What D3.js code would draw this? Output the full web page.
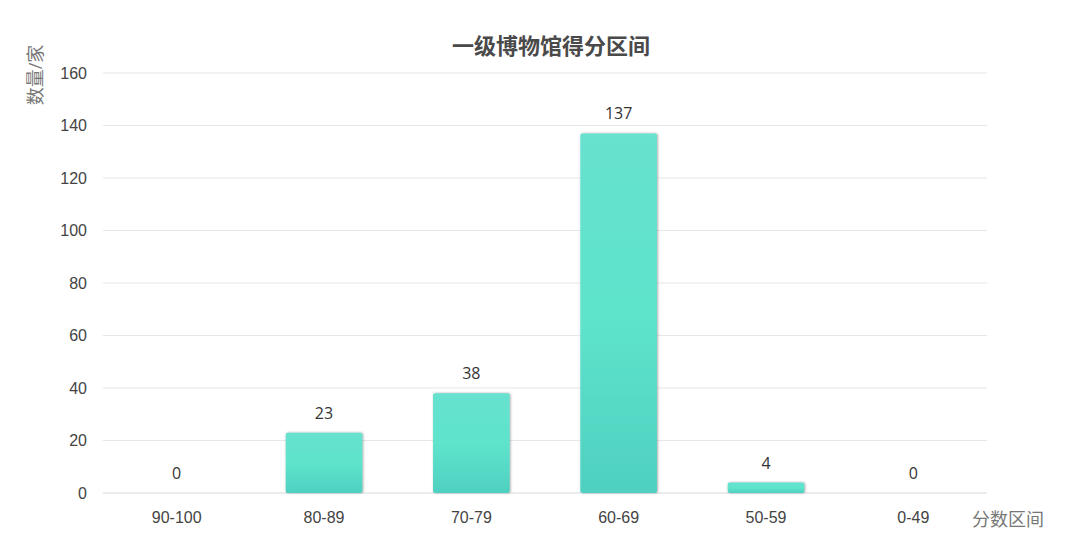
<!DOCTYPE html>
<html>
<head>
    <meta charset="utf-8">
    <style>
        body {
            margin: 0;
            background: #fff;
            font-family: "Open Sans", "Noto Sans CJK SC", sans-serif;
        }

        svg {
            display: block;
        }

        .y .domain, .x .domain {
            display: none;
        }

        .tick text {
            font-size: 16px;
            fill: #444;
        }
    </style>
</head>
<body>
    <svg width="1080" height="558"></svg>

<script src="https://d3js.org/d3.v7.min.js"></script>
<script>
    // Score bands and number of museums in each
    let categories = ["90-100", "80-89", "70-79", "60-69", "50-59", "0-49"]
    let counts = [0, 23, 38, 137, 4, 0]
    let yTicks = [0, 20, 40, 60, 80, 100, 120, 140, 160]

    let width = 1080
    let height = 558
    let margin = { top: 73, right: 93, bottom: 65, left: 103 }

    let svg = d3.select("svg")

    // Bar gradient + soft shadow
    let defs = svg.append("defs")
    let grad = defs.append("linearGradient")
        .attr("id", "barGrad")
        .attr("x1", 0).attr("y1", 0)
        .attr("x2", 0).attr("y2", 1)
    grad.append("stop").attr("offset", "0%").attr("stop-color", "#67e1cf")
    grad.append("stop").attr("offset", "50%").attr("stop-color", "#5ee4cc")
    grad.append("stop").attr("offset", "100%").attr("stop-color", "#4fd0c1")

    let shadow = defs.append("filter")
        .attr("id", "shadow")
        .attr("x", "-10%").attr("y", "-10%")
        .attr("width", "120%").attr("height", "120%")
    shadow.append("feDropShadow")
        .attr("dx", 0.8).attr("dy", 0)
        .attr("stdDeviation", 1.3)
        .attr("flood-color", "#444")
        .attr("flood-opacity", 0.5)

    let x = d3.scaleBand()
        .domain(categories)
        .range([margin.left, width - margin.right])
        .paddingInner(0.48)
        .paddingOuter(0.24)

    let y = d3.scaleLinear()
        .domain([0, 160])
        .range([height - margin.bottom, margin.top])

    // Gridlines
    svg.append("g")
        .selectAll("line")
        .data(yTicks)
        .join("line")
        .attr("x1", margin.left)
        .attr("x2", width - margin.right)
        .attr("y1", d => y(d))
        .attr("y2", d => y(d))
        .attr("stroke", d => d == 0 ? "#d4dada" : "#e3e8e8")
        .attr("stroke-width", 1.2)

    // Y axis
    svg.append("g")
        .attr("class", "y axis")
        .attr("transform", `translate(${margin.left - 6},0)`)
        .call(d3.axisLeft(y).tickValues(yTicks).tickSize(0).tickPadding(10))

    // X axis
    svg.append("g")
        .attr("class", "x axis")
        .attr("transform", `translate(0,${height - margin.bottom})`)
        .call(d3.axisBottom(x).tickSize(0).tickPadding(19))

    // Bars
    svg.append("g")
        .selectAll("rect")
        .data(counts)
        .join("rect")
        .attr("x", (d, i) => x(categories[i]))
        .attr("y", d => y(d))
        .attr("width", x.bandwidth())
        .attr("height", d => y(0) - y(d))
        .attr("rx", 2)
        .attr("fill", "url(#barGrad)")
        .attr("filter", "url(#shadow)")
        .style("display", d => d == 0 ? "none" : null)

    // Value labels
    svg.append("g")
        .selectAll("text")
        .data(counts)
        .join("text")
        .attr("x", (d, i) => x(categories[i]) + x.bandwidth() / 2)
        .attr("y", d => y(d) - 14)
        .attr("text-anchor", "middle")
        .style("font-size", "16px")
        .style("fill", "#333")
        .text(d => d)

    // Title
    svg.append("text")
        .attr("x", 551)
        .attr("y", 54)
        .attr("text-anchor", "middle")
        .style("font-size", "22px")
        .style("font-weight", "bold")
        .style("fill", "#4a4a4a")
        .text("一级博物馆得分区间")

    // Y axis title
    svg.append("text")
        .attr("transform", "translate(42,75) rotate(-90)")
        .attr("text-anchor", "middle")
        .style("font-size", "18px")
        .style("fill", "#777")
        .text("数量/家")

    // X axis title
    svg.append("text")
        .attr("x", 972)
        .attr("y", 526)
        .style("font-size", "18px")
        .style("fill", "#777")
        .text("分数区间")
</script>
</body>
</html>
